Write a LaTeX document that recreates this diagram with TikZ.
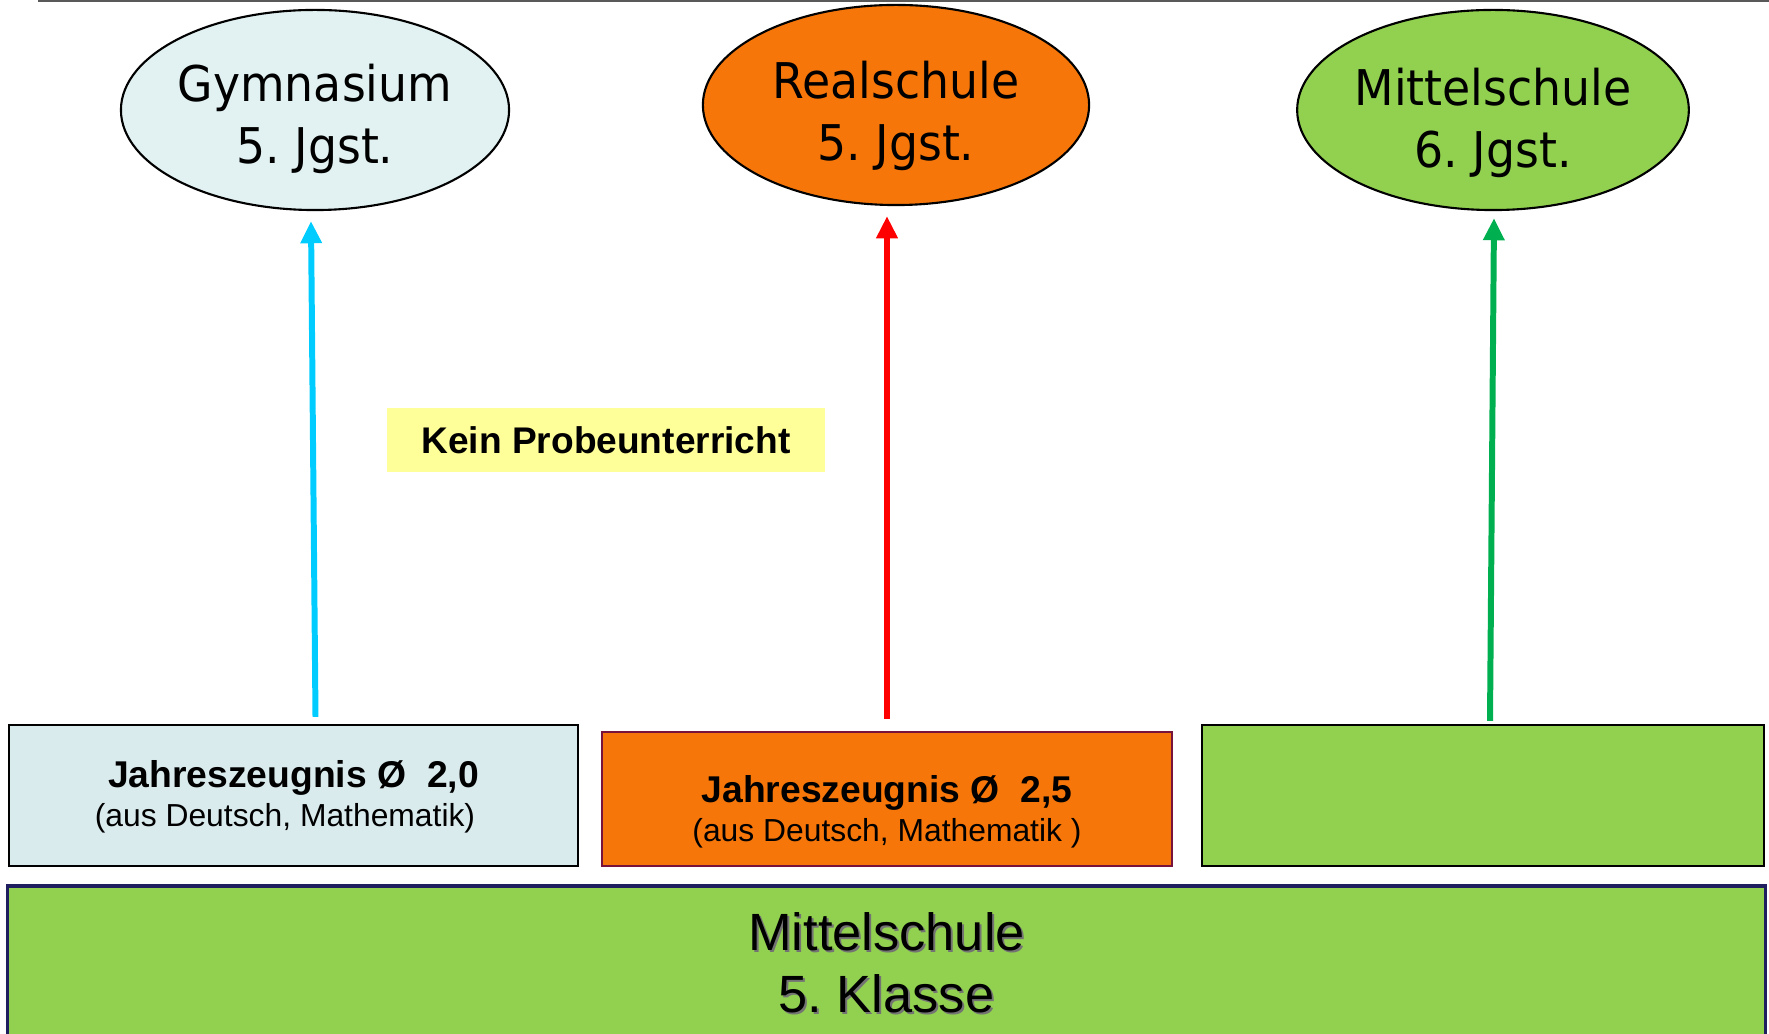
\documentclass[tikz,border=0pt]{standalone}
\usepackage{fontspec}
\setmainfont{Liberation Sans}
\newfontfamily\jgstfont[FakeStretch=0.93]{DejaVu Sans}
\usepackage{xcolor}
\usepackage{tikz}
\usetikzlibrary{arrows.meta,calc,shapes.geometric,positioning}
\frenchspacing

\definecolor{gymblue}{RGB}{226,242,242}
\definecolor{boxblue}{RGB}{218,235,238}
\definecolor{realorange}{RGB}{247,118,10}
\definecolor{msgreen}{RGB}{146,208,80}
\definecolor{msnavy}{RGB}{31,31,96}
\definecolor{boxmaroon}{RGB}{120,20,60}
\definecolor{noteyellow}{RGB}{255,255,153}
\definecolor{arrowblue}{RGB}{0,204,255}
\definecolor{arrowred}{RGB}{255,0,0}
\definecolor{arrowgreen}{RGB}{0,176,80}

% two lines, moved down a little
\newcommand{\twolines}[3]{\raisebox{-#1}[\height][\depth]{\begin{tabular}{@{}c@{}}#2\\#3\end{tabular}}}

\begin{document}
\begin{tikzpicture}[x=0.01cm,y=-0.01cm]

\tikzset{school/.style={ellipse, draw=black, line width=0.6pt, minimum width=3.86cm, minimum height=2cm,
  inner sep=0pt, font=\jgstfont\fontsize{14}{17.6}\selectfont},
grade/.style={rectangle, draw=black, line width=0.6pt, inner sep=0pt,
  font=\fontsize{9.05}{11}\selectfont},
uparrow/.style={line width=1.7pt, -{Triangle[length=6.3pt,width=5.8pt]}}}

\useasboundingbox (0,0) rectangle (1769,1034);

\draw[gray!70!black, line width=0.6pt] (38,1) -- (1769,1);

%the three schools on top
\node[school, fill=gymblue] (gym) at (315,110) {\twolines{0.1cm}{Gymnasium}{5. Jgst.}};
\node[school, fill=realorange] (real) at (896,105) {\twolines{0.12cm}{Realschule}{5. Jgst.}};
\node[school, fill=msgreen] (mittel) at (1493,110) {\twolines{0.14cm}{Mittelschule}{6. Jgst.}};

%the marks needed
\node[grade, fill=boxblue, minimum width=5.69cm, minimum height=1.41cm] (jz1) at (293.5,795.5)
  {\twolines{0.04cm}{\bfseries\fontsize{10.6}{11}\selectfont Jahreszeugnis Ø\ \ 2,0}{(aus Deutsch, Mathematik)\kern0.17cm}};
\node[grade, fill=realorange, draw=boxmaroon, line width=0.45pt, minimum width=5.7cm, minimum height=1.34cm] (jz2) at (887,799)
  {\twolines{0.15cm}{\bfseries\fontsize{10.6}{11}\selectfont Jahreszeugnis Ø\ \ 2,5}{(aus Deutsch, Mathematik )}};
\node[grade, fill=msgreen, minimum width=5.62cm, minimum height=1.41cm] (jz3) at (1483,795.5) {};

\node[fill=noteyellow, minimum width=4.38cm, minimum height=0.64cm, inner sep=0pt,
  font=\bfseries\fontsize{10.55}{12}\selectfont] (probe) at (606,440) {Kein Probeunterricht};

%the class at the bottom
\node[draw=msnavy, fill=msgreen, line width=1.1pt, minimum width=17.57cm, minimum height=1.59cm, inner sep=0pt] (msbox) at (886.5,965.5) {};
\node[text=black!55, align=center, font=\fontsize{14.9}{17.6}\selectfont] (msshadow) at ($(msbox.center)+(2,-1)$) {Mittelschule\\5. Klasse};
\node[align=center, font=\fontsize{14.9}{17.6}\selectfont] (mstext) at ($(msbox.center)+(0,-3)$) {Mittelschule\\5. Klasse};

%now the arrows
\draw[uparrow, arrowblue] ($(jz1.north)+(22,-7)$) -- ($(gym.south)+(-4,10)$);
\draw[uparrow, arrowred] ($(jz2.north)+(0,-12)$) -- ($(real.south)+(-9,10)$);
\draw[uparrow, arrowgreen] ($(jz3.north)+(7,-3)$) -- ($(mittel.south)+(1,7)$);

\end{tikzpicture}
\end{document}
